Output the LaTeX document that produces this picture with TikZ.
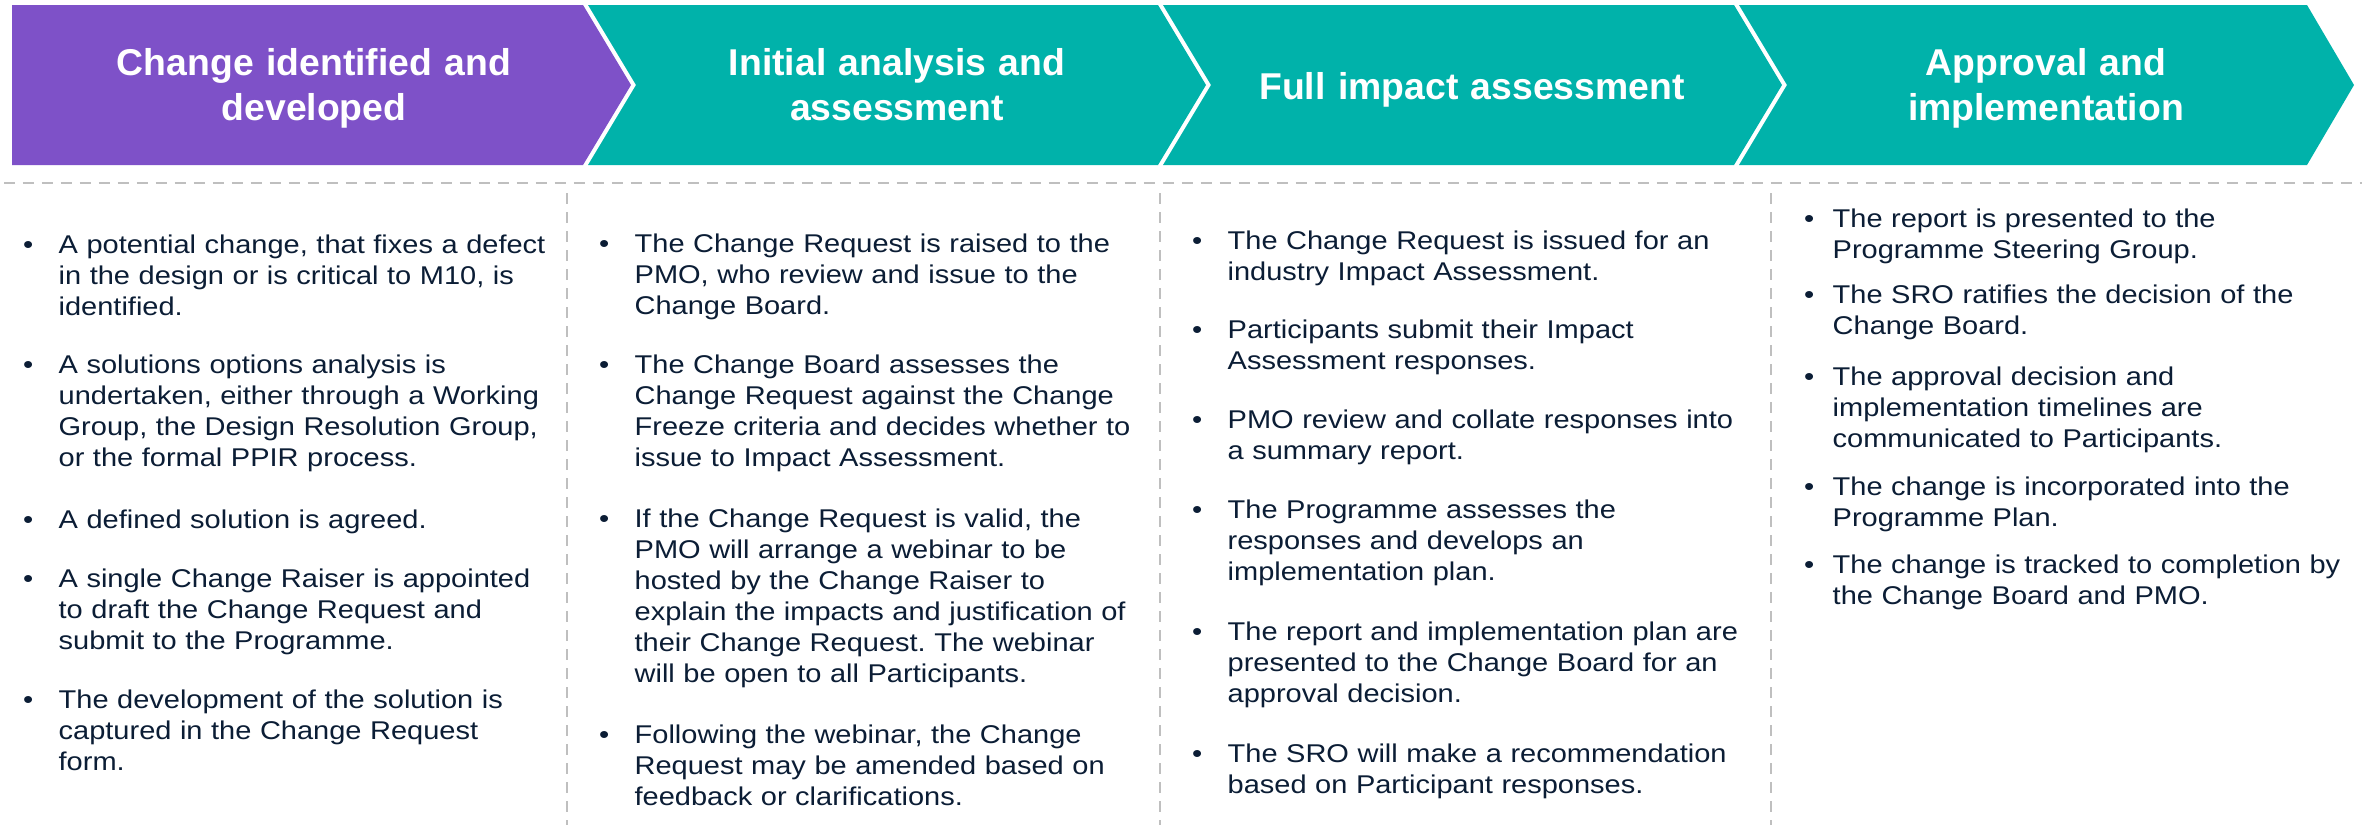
\documentclass[tikz,border=0pt]{standalone}
\usepackage{fontspec}
\setmainfont{Liberation Sans}
\newfontfamily\bodyfont[FakeStretch=1.13]{Liberation Sans}
\definecolor{cpurple}{HTML}{7E51C8}
\definecolor{cteal}{HTML}{00B2AA}
\definecolor{cgrey}{HTML}{BFBFBF}
\definecolor{ctext}{HTML}{0B1D35}
\tikzset{
  hdr/.style={text=white, font=\fontsize{11.2}{13.5}\selectfont\bfseries, text width=160pt, align=center, anchor=base, inner sep=0pt},
  sepline/.style={draw=cgrey, line width=0.85pt, dash pattern=on 3.3pt off 2.4pt},
  bul/.style={text=ctext, font=\bodyfont\fontsize{7.7}{9.3}\selectfont\frenchspacing, anchor=base west, inner sep=0pt},
  itemtext/.style={bul, text width=170pt, align=left},
}
\newcommand\cbitem[5]{%
  \node[bul] (#1b) at (#2,#4) {\textbullet};
  \node[itemtext] (#1) at (#3,#4) {#5};
}
\begin{document}
\begin{tikzpicture}[x=0.3pt,y=-0.3pt]
\fill[white] (0,0) rectangle (2362,825);
\useasboundingbox (0,0) rectangle (2362,825);
% chevrons
\fill[cpurple] (12,5) -- (583,5) -- (631,85) -- (583,165) -- (12,165) -- cycle;
\fill[cteal] (588,5) -- (1158,5) -- (1206,85) -- (1158,165) -- (588,165) -- (636,85) -- cycle;
\fill[cteal] (1163,5) -- (1734,5) -- (1782,85) -- (1734,165) -- (1163,165) -- (1211,85) -- cycle;
\fill[cteal] (1739,5) -- (2307,5) -- (2354,85) -- (2307,165) -- (1739,165) -- (1787,85) -- cycle;
% headers
\node[hdr] (h1) at (314,75) {Change identified and\\developed};
\node[hdr] (h2) at (897,75) {Initial analysis and\\assessment};
\node[hdr] (h3) at (1472,99) {Full impact assessment};
\node[hdr] (h4) at (2046,75) {Approval and\\implementation};
% separators
\coordinate (hl) at (4,183);
\coordinate (hr) at (2362,183);
\draw[sepline] (hl) -- (hr);
\coordinate (v1t) at (567,193); \coordinate (v1b) at (567,825);
\coordinate (v2t) at (1160,193); \coordinate (v2b) at (1160,825);
\coordinate (v3t) at (1771,193); \coordinate (v3b) at (1771,825);
\draw[sepline] (v1t) -- (v1b);
\draw[sepline] (v2t) -- (v2b);
\draw[sepline] (v3t) -- (v3b);
% column 1
\cbitem{a1}{22.5}{58}{253}{A potential change, that fixes a defect\\in the design or is critical to M10, is\\identified.}
\cbitem{a2}{22.5}{58}{373}{A solutions options analysis is\\undertaken, either through a Working\\Group, the Design Resolution Group,\\or the formal PPIR process.}
\cbitem{a3}{22.5}{58}{528}{A defined solution is agreed.}
\cbitem{a4}{22.5}{58}{587}{A single Change Raiser is appointed\\to draft the Change Request and\\submit to the Programme.}
\cbitem{a5}{22.5}{58}{708}{The development of the solution is\\captured in the Change Request\\form.}
% column 2
\cbitem{b1}{598.5}{634}{252}{The Change Request is raised to the\\PMO, who review and issue to the\\Change Board.}
\cbitem{b2}{598.5}{634}{373}{The Change Board assesses the\\Change Request against the Change\\Freeze criteria and decides whether to\\issue to Impact Assessment.}
\cbitem{b3}{598.5}{634}{527}{If the Change Request is valid, the\\PMO will arrange a webinar to be\\hosted by the Change Raiser to\\explain the impacts and justification of\\their Change Request. The webinar\\will be open to all Participants.}
\cbitem{b4}{598.5}{634}{743}{Following the webinar, the Change\\Request may be amended based on\\feedback or clarifications.}
% column 3
\cbitem{c1}{1191.5}{1227}{249}{The Change Request is issued for an\\industry Impact Assessment.}
\cbitem{c2}{1191.5}{1227}{338}{Participants submit their Impact\\Assessment responses.}
\cbitem{c3}{1191.5}{1227}{428}{PMO review and collate responses into\\a summary report.}
\cbitem{c4}{1191.5}{1227}{518}{The Programme assesses the\\responses and develops an\\implementation plan.}
\cbitem{c5}{1191.5}{1227}{640}{The report and implementation plan are\\presented to the Change Board for an\\approval decision.}
\cbitem{c6}{1191.5}{1227}{762}{The SRO will make a recommendation\\based on Participant responses.}
% column 4
\cbitem{d1}{1803.5}{1832}{227}{The report is presented to the\\Programme Steering Group.}
\cbitem{d2}{1803.5}{1832}{303}{The SRO ratifies the decision of the\\Change Board.}
\cbitem{d3}{1803.5}{1832}{385}{The approval decision and\\implementation timelines are\\communicated to Participants.}
\cbitem{d4}{1803.5}{1832}{495}{The change is incorporated into the\\Programme Plan.}
\cbitem{d5}{1803.5}{1832}{573}{The change is tracked to completion by\\the Change Board and PMO.}
\end{tikzpicture}
\end{document}
